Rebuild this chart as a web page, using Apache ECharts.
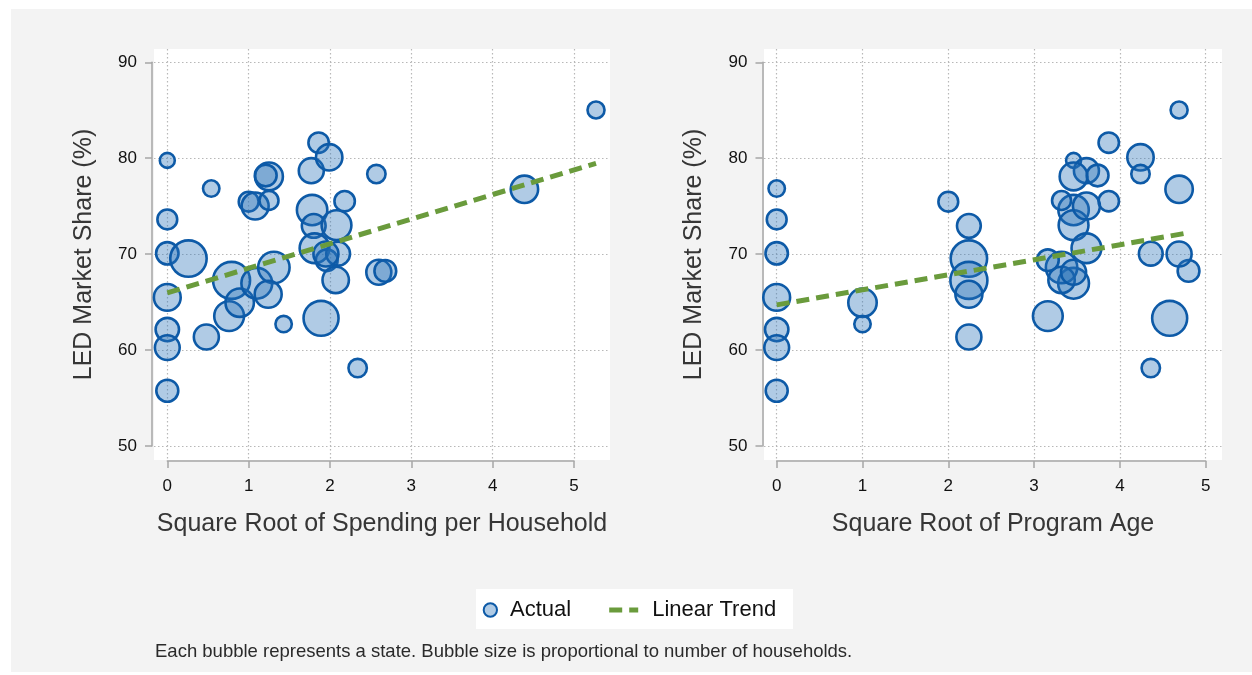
<!DOCTYPE html>
<html>
<head>
<meta charset="utf-8">
<script src="https://cdn.jsdelivr.net/npm/echarts@6/dist/echarts.min.js"></script>
<style>
  html, body { margin: 0; padding: 0; background: #fff; }
  #chart { width: 1252px; height: 675px; }
</style>
</head>
<body>
<div id="chart"></div>
<script>
// tick labels
const shareTicks = [50, 60, 70, 80, 90];
const rootTicks = [0, 1, 2, 3, 4, 5];

// one entry per state
const share = [79.75, 76.82, 73.6, 70.07, 69.52, 65.48, 62.13, 60.25, 55.76, 61.35,
  67.25, 63.53, 64.93, 66.95, 68.6, 65.8, 62.7, 63.3, 74.58, 72.93,
  73.0, 75.5, 78.68, 81.6, 80.07, 78.33, 78.08, 78.18, 75.45, 75.0,
  75.58, 70.6, 69.35, 70.03, 67.3, 68.1, 68.24, 58.12, 76.74, 85.0,
  70.0];
const spendRoot = [0, 0.54, 0, 0, 0.26, 0, 0, 0, 0, 0.48,
  0.79, 0.76, 0.89, 1.10, 1.31, 1.24, 1.43, 1.89, 1.78, 1.80,
  2.08, 2.18, 1.77, 1.86, 1.99, 2.57, 1.25, 1.21, 1.00, 1.08,
  1.25, 1.81, 1.96, 2.10, 2.07, 2.60, 2.68, 2.34, 4.39, 5.27,
  1.95];
const ageRoot = [3.46, 0, 0, 0, 2.24, 0, 0, 0, 0, 2.24,
  2.24, 3.16, 1, 3.46, 3.32, 2.24, 1, 4.58, 3.46, 2.24,
  3.46, 3.87, 3.61, 3.87, 4.24, 4.24, 3.46, 3.74, 2, 3.61,
  3.32, 3.61, 3.16, 4.36, 3.32, 3.46, 4.80, 4.36, 4.69, 4.69,
  4.69];
// millions of households
const households = [2.36, 2.78, 3.93, 4.94, 12.38, 6.92, 5.36, 5.98, 4.77, 6.07,
  12.77, 8.45, 7.72, 9.0, 9.34, 7.01, 2.78, 11.48, 8.78, 5.53,
  8.45, 4.15, 6.07, 4.15, 6.72, 3.43, 7.41, 4.69, 3.93, 7.01,
  3.64, 8.45, 4.69, 5.53, 6.72, 6.07, 4.69, 3.43, 7.21, 2.97,
  6.07];

// fitted trend end points
const trendSpendX = [0, 5.27];
const trendSpendY = [65.95, 79.45];
const trendAgeX = [0, 4.79];
const trendAgeY = [64.7, 72.2];

const font = '"Liberation Sans", Arial, sans-serif';
const axisGray = '#a6a6a6';
const trendGreen = '#6a9b3c';
const trendDash = [13, 7];
const dotGrid = { show: true, lineStyle: { color: '#b8b8b8', width: 1.2, type: [1.5, 2.5] } };

function zip(xs) {
  return xs.map((x, i) => [x, share[i], households[i]]);
}

function panel(k, o) {
  const g = k * 3;
  const grids = [
    { left: o.left, top: 49, width: o.width, height: 411, show: true, backgroundColor: '#fff', borderWidth: 0 },
    { left: o.tick0, top: 400, width: o.tick5 - o.tick0, height: 61 },
    { left: o.axisX, top: 62.3, width: 20, height: 383.7 }
  ];
  const hidden = { show: false };
  const xAxes = [
    {
      gridIndex: g, type: 'value', min: o.xmin, max: o.xmax,
      axisLine: hidden, axisTick: { show: false, customValues: rootTicks },
      axisLabel: { show: false, customValues: rootTicks },
      splitLine: dotGrid,
      name: o.xname, nameLocation: 'middle', nameGap: 52,
      nameTextStyle: { fontSize: 25, color: '#363636', fontFamily: font }
    },
    {
      gridIndex: g + 1, type: 'value', min: 0, max: 5, interval: 1, position: 'bottom',
      axisLine: { show: true, lineStyle: { color: axisGray, width: 1.5 } },
      axisTick: { show: true, length: 7, lineStyle: { color: axisGray, width: 1.5 } },
      axisLabel: { fontSize: 17, color: '#111', margin: 17, fontFamily: font },
      splitLine: hidden
    },
    { gridIndex: g + 2, type: 'value', show: false }
  ];
  const yAxes = [
    {
      gridIndex: g, type: 'value', min: 48.542, max: 91.354,
      axisLine: hidden, axisTick: { show: false, customValues: shareTicks },
      axisLabel: { show: false, customValues: shareTicks },
      splitLine: dotGrid,
      name: 'LED Market Share (%)', nameLocation: 'middle', nameGap: 57,
      nameTextStyle: { fontSize: 25, color: '#363636', fontFamily: font }
    },
    { gridIndex: g + 1, type: 'value', show: false },
    {
      gridIndex: g + 2, type: 'value', min: 50, max: 90, interval: 10, position: 'left',
      axisLine: { show: true, lineStyle: { color: axisGray, width: 1.5 } },
      axisTick: { show: true, length: 7, lineStyle: { color: axisGray, width: 1.5 } },
      axisLabel: { fontSize: 17, color: '#111', margin: 15, fontFamily: font },
      splitLine: hidden
    }
  ];
  const series = [
    {
      name: 'Actual', type: 'scatter', xAxisIndex: g, yAxisIndex: g,
      data: zip(o.xs),
      symbolSize: v => 10.8 * Math.sqrt(v[2]) - 1.6,
      itemStyle: { color: 'rgba(40,113,184,0.37)', borderColor: '#0d5aa7', borderWidth: 2.6, opacity: 1 },
      emphasis: { disabled: true }
    },
    {
      name: 'Linear Trend', type: 'line', xAxisIndex: g, yAxisIndex: g,
      data: o.tx.map((x, i) => [x, o.ty[i]]),
      symbol: 'none', showSymbol: false, z: 3,
      itemStyle: { color: trendGreen },
      lineStyle: { color: trendGreen, width: 5, type: trendDash, cap: 'butt' },
      emphasis: { disabled: true }
    }
  ];
  return { grids, xAxes, yAxes, series };
}

const left = panel(0, {
  left: 154, width: 456, tick0: 167.3, tick5: 574, axisX: 152,
  xmin: (154 - 167.3) / 81.35, xmax: (610 - 167.3) / 81.35,
  xname: 'Square Root of Spending per Household',
  xs: spendRoot, tx: trendSpendX, ty: trendSpendY
});
const right = panel(1, {
  left: 764, width: 458, tick0: 776.7, tick5: 1205.7, axisX: 762.5,
  xmin: (764 - 776.7) / 85.8, xmax: (1222 - 776.7) / 85.8,
  xname: 'Square Root of Program Age',
  xs: ageRoot, tx: trendAgeX, ty: trendAgeY
});

const chart = echarts.init(document.getElementById('chart'), null, { renderer: 'canvas' });
chart.setOption({
  animation: false,
  backgroundColor: '#fff',
  textStyle: { fontFamily: font },
  graphic: [
    { type: 'rect', left: 11, top: 9, z: -10, shape: { width: 1241, height: 663 }, style: { fill: '#f3f3f3' } },
    { type: 'rect', left: 476, top: 589, z: -5, shape: { width: 317, height: 40 }, style: { fill: '#fff' } }
  ],
  title: {
    text: 'Each bubble represents a state. Bubble size is proportional to number of households.',
    left: 155, top: 642, padding: 0,
    textStyle: { fontSize: 18.5, fontWeight: 'normal', color: '#2a2a2a', fontFamily: font }
  },
  legend: [
    {
      data: ['Actual'], left: 482.7, top: 599, padding: 0, selectedMode: false,
      itemWidth: 13.3, itemHeight: 13.3, icon: 'circle',
      itemStyle: { borderWidth: 2 },
      textStyle: { fontSize: 22, color: '#111', fontFamily: font, padding: [0, 0, 0, 8] }
    },
    {
      data: ['Linear Trend'], left: 606.7, top: 599, padding: 0, selectedMode: false,
      itemWidth: 29, itemHeight: 14,
      itemStyle: { opacity: 0 },
      lineStyle: { color: trendGreen, width: 5, type: trendDash, cap: 'butt' },
      textStyle: { fontSize: 22, color: '#111', fontFamily: font, padding: [0, 0, 0, 9] }
    }
  ],
  grid: left.grids.concat(right.grids),
  xAxis: left.xAxes.concat(right.xAxes),
  yAxis: left.yAxes.concat(right.yAxes),
  series: left.series.concat(right.series)
});
</script>
</body>
</html>
